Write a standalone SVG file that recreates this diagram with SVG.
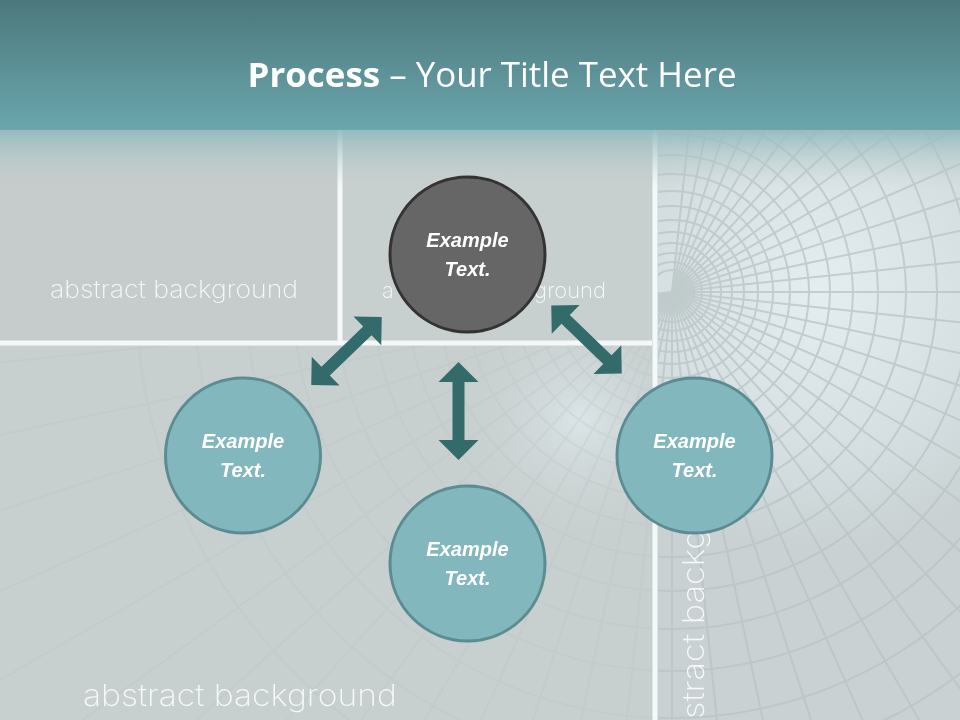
<svg xmlns="http://www.w3.org/2000/svg" xmlns:xlink="http://www.w3.org/1999/xlink" width="960" height="720" viewBox="0 0 960 720">
<defs>
<style>
.node-teal{fill:#83b7be;stroke:#5b8c91;stroke-width:3}
.node-dark{fill:#666666;stroke:#333333;stroke-width:3}
.label{font-family:"Liberation Sans",Arial,sans-serif;font-weight:bold;font-style:italic;font-size:20px;fill:#ffffff;text-anchor:middle}
.arrow{fill:#336b6b}
.bgtext{font-family:Inter,"DejaVu Sans",sans-serif;font-weight:200;fill:#ffffff;fill-opacity:0.85}
.wline{stroke:#f4f8f8;stroke-width:5}
.grid{fill:none;stroke:#b9c3c5;stroke-width:2}
</style>
<linearGradient id="band" x1="0" y1="0" x2="0" y2="1">
<stop offset="0" stop-color="#4b787c"/>
<stop offset="1" stop-color="#6ba6ad"/>
</linearGradient>
<linearGradient id="fade" x1="0" y1="0" x2="0" y2="1">
<stop offset="0" stop-color="#8fb9be" stop-opacity="0.95"/>
<stop offset="1" stop-color="#c6cfcf" stop-opacity="0"/>
</linearGradient>
<radialGradient id="glow" cx="820" cy="290" r="260" gradientUnits="userSpaceOnUse">
<stop offset="0" stop-color="#e4eef0"/>
<stop offset="0.6" stop-color="#d6e0e2"/>
<stop offset="1" stop-color="#c9d1d2"/>
</radialGradient>
<radialGradient id="glow2" cx="580" cy="420" r="130" gradientUnits="userSpaceOnUse">
<stop offset="0" stop-color="#dbe5e7"/>
<stop offset="1" stop-color="#c9d0d0" stop-opacity="0"/>
</radialGradient>
<clipPath id="rightClip"><rect x="658" y="130" width="302" height="590"/></clipPath>
<clipPath id="lowClip"><rect x="0" y="346" width="652" height="374"/></clipPath>
<line id="ray" x1="0" y1="0" x2="800" y2="0"/>
<g id="tunnel" class="grid">
<use xlink:href="#ray" transform="rotate(0)"/><use xlink:href="#ray" transform="rotate(6)"/><use xlink:href="#ray" transform="rotate(12)"/><use xlink:href="#ray" transform="rotate(18)"/><use xlink:href="#ray" transform="rotate(24)"/><use xlink:href="#ray" transform="rotate(30)"/><use xlink:href="#ray" transform="rotate(36)"/><use xlink:href="#ray" transform="rotate(42)"/><use xlink:href="#ray" transform="rotate(48)"/><use xlink:href="#ray" transform="rotate(54)"/><use xlink:href="#ray" transform="rotate(60)"/><use xlink:href="#ray" transform="rotate(66)"/><use xlink:href="#ray" transform="rotate(72)"/><use xlink:href="#ray" transform="rotate(78)"/><use xlink:href="#ray" transform="rotate(84)"/><use xlink:href="#ray" transform="rotate(90)"/><use xlink:href="#ray" transform="rotate(96)"/><use xlink:href="#ray" transform="rotate(102)"/><use xlink:href="#ray" transform="rotate(108)"/><use xlink:href="#ray" transform="rotate(114)"/><use xlink:href="#ray" transform="rotate(120)"/><use xlink:href="#ray" transform="rotate(126)"/><use xlink:href="#ray" transform="rotate(132)"/><use xlink:href="#ray" transform="rotate(138)"/><use xlink:href="#ray" transform="rotate(144)"/><use xlink:href="#ray" transform="rotate(150)"/><use xlink:href="#ray" transform="rotate(156)"/><use xlink:href="#ray" transform="rotate(162)"/><use xlink:href="#ray" transform="rotate(168)"/><use xlink:href="#ray" transform="rotate(174)"/>
<use xlink:href="#ray" transform="rotate(-6)"/><use xlink:href="#ray" transform="rotate(-12)"/><use xlink:href="#ray" transform="rotate(-18)"/><use xlink:href="#ray" transform="rotate(-24)"/><use xlink:href="#ray" transform="rotate(-30)"/><use xlink:href="#ray" transform="rotate(-36)"/><use xlink:href="#ray" transform="rotate(-42)"/><use xlink:href="#ray" transform="rotate(-48)"/><use xlink:href="#ray" transform="rotate(-54)"/><use xlink:href="#ray" transform="rotate(-60)"/><use xlink:href="#ray" transform="rotate(-66)"/><use xlink:href="#ray" transform="rotate(-72)"/><use xlink:href="#ray" transform="rotate(-78)"/><use xlink:href="#ray" transform="rotate(-84)"/>
<circle r="22"/><circle r="30"/><circle r="39"/><circle r="49"/><circle r="60"/><circle r="72"/><circle r="86"/><circle r="101"/><circle r="118"/><circle r="137"/><circle r="158"/><circle r="181"/><circle r="206"/><circle r="234"/><circle r="265"/><circle r="299"/><circle r="337"/><circle r="379"/><circle r="426"/><circle r="478"/><circle r="536"/>
</g>
<polygon id="dbl" points="-49,0 -29,-20 -29,-6 29,-6 29,-20 49,0 29,20 29,6 -29,6 -29,20"/>
</defs>

<g id="background">
<rect x="0" y="0" width="960" height="720" fill="#c8cfcf"/>
<rect x="658" y="130" width="302" height="590" fill="url(#glow)"/>
<rect x="342" y="346" width="310" height="300" fill="url(#glow2)"/>
<g clip-path="url(#rightClip)"><use xlink:href="#tunnel" transform="translate(672 292)" opacity="0.75"/></g>
<g clip-path="url(#lowClip)"><use xlink:href="#tunnel" transform="translate(672 292)" opacity="0.3"/></g>
<rect x="0" y="130" width="338" height="211" fill="#c5cccb"/>
<rect x="342" y="130" width="311" height="211" fill="#c8cfcf"/>
<line class="wline" x1="340" y1="130" x2="340" y2="343"/>
<line class="wline" x1="0" y1="343" x2="652" y2="343"/>
<line class="wline" x1="655" y1="130" x2="655" y2="720"/>
<rect x="0" y="128" width="960" height="60" fill="url(#fade)"/>
<rect x="0" y="0" width="960" height="130" fill="url(#band)"/>
<text class="bgtext" x="50" y="298" font-size="24" textLength="248" lengthAdjust="spacingAndGlyphs">abstract background</text>
<text class="bgtext" x="382" y="298" font-size="22">a</text>
<text class="bgtext" x="606" y="298" font-size="22" text-anchor="end">ground</text>
<text class="bgtext" x="83" y="706" font-size="30" textLength="314" lengthAdjust="spacingAndGlyphs">abstract background</text>
<text class="bgtext" transform="translate(704 719) rotate(-90)" font-size="30" textLength="190" lengthAdjust="spacingAndGlyphs">stract backg</text>
</g>

<g id="title">
<text x="492" y="87" font-family="'Open Sans','Noto Sans',sans-serif" font-size="34" fill="#ffffff" text-anchor="middle" textLength="489" lengthAdjust="spacingAndGlyphs"><tspan font-weight="bold">Process</tspan> – Your Title Text Here</text>
</g>

<g id="connectors">
<use class="arrow" xlink:href="#dbl" transform="translate(346.5 351) rotate(-44)"/>
<use class="arrow" xlink:href="#dbl" transform="translate(458.5 411) rotate(90)"/>
<use class="arrow" xlink:href="#dbl" transform="translate(586.5 339.5) rotate(44)"/>
</g>

<g id="node-top">
<circle class="node-dark" cx="467.5" cy="254.5" r="77.5"/>
<text class="label" x="467.5" y="247">Example</text>
<text class="label" x="467.5" y="276">Text.</text>
</g>
<g id="node-left">
<circle class="node-teal" cx="243" cy="455.5" r="77.5"/>
<text class="label" x="243" y="448">Example</text>
<text class="label" x="243" y="477">Text.</text>
</g>
<g id="node-bottom">
<circle class="node-teal" cx="467.5" cy="563.5" r="77.5"/>
<text class="label" x="467.5" y="556">Example</text>
<text class="label" x="467.5" y="585">Text.</text>
</g>
<g id="node-right">
<circle class="node-teal" cx="694.5" cy="455.5" r="77.5"/>
<text class="label" x="694.5" y="448">Example</text>
<text class="label" x="694.5" y="477">Text.</text>
</g>
</svg>
